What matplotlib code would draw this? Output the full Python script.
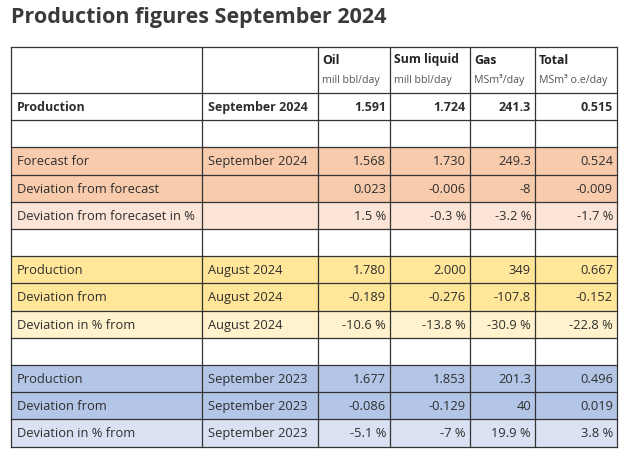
import matplotlib
matplotlib.use('Agg')
import matplotlib.pyplot as plt
from matplotlib.patches import Rectangle

plt.rcParams['font.family'] = ['Open Sans', 'DejaVu Sans']

# DATA
title = 'Production figures September 2024'
columns = ['Oil', 'Sum liquid', 'Gas', 'Total']
units = ['mill bbl/day', 'mill bbl/day', 'MSm³/day', 'MSm³ o.e/day']

row_labels = ['Production', '',
              'Forecast for', 'Deviation from forecast', 'Deviation from forecaset in %', '',
              'Production', 'Deviation from', 'Deviation in % from', '',
              'Production', 'Deviation from', 'Deviation in % from']
periods = ['September 2024', '',
           'September 2024', '', '', '',
           'August 2024', 'August 2024', 'August 2024', '',
           'September 2023', 'September 2023', 'September 2023']
oil = ['1.591', '', '1.568', '0.023', '1.5 %', '', '1.780', '-0.189', '-10.6 %', '',
       '1.677', '-0.086', '-5.1 %']
liquid = ['1.724', '', '1.730', '-0.006', '-0.3 %', '', '2.000', '-0.276', '-13.8 %', '',
          '1.853', '-0.129', '-7 %']
gas = ['241.3', '', '249.3', '-8', '-3.2 %', '', '349', '-107.8', '-30.9 %', '',
       '201.3', '40', '19.9 %']
total = ['0.515', '', '0.524', '-0.009', '-1.7 %', '', '0.667', '-0.152', '-22.8 %', '',
         '0.496', '0.019', '3.8 %']

# row fill colours
fills = ['white', 'white',
         '#F8CBAD', '#F8CBAD', '#FCE4D6', 'white',
         '#FFE699', '#FFE699', '#FFF2CC', 'white',
         '#B4C6E7', '#B4C6E7', '#D9E1F2']

# layout in pixels
col_x = [11, 202, 318, 390, 470, 535, 617]
top = 48
header_h = 46
row_h = 27.2
text_col = '#2e2e2e'
line_col = '#333333'

fig = plt.figure(figsize=(6.23, 4.56), dpi=100)
ax = fig.add_axes([0, 0, 1, 1])
ax.set_xlim(0, 623)
ax.set_ylim(456, 0)
ax.axis('off')

ax.text(11, 18, title, fontsize=15.5, fontweight='bold', color='#3a3a3a',
        va='center', ha='left')

# header
for i, (c, u) in enumerate(zip(columns, units)):
    x0 = col_x[i + 2]
    ax.text(x0 + 4, top + 12, c, fontsize=8.8, fontweight='bold', color='#222222',
            va='center', ha='left')
    ax.text(x0 + 4, top + 32, u, fontsize=7.7, color='#555555',
            va='center', ha='left')

values = list(zip(oil, liquid, gas, total))
y = top + header_h
for r in range(len(row_labels)):
    ax.add_patch(Rectangle((col_x[0], y), col_x[-1] - col_x[0], row_h,
                           facecolor=fills[r], edgecolor='none', zorder=0))
    bold = 'bold' if r == 0 else 'normal'
    fs = 9.0 if r == 0 else 9.3
    yc = y + row_h / 2
    ax.text(col_x[0] + 6, yc, row_labels[r], fontsize=fs, fontweight=bold,
            color=text_col, va='center', ha='left')
    ax.text(col_x[1] + 6, yc, periods[r], fontsize=fs, fontweight=bold,
            color=text_col, va='center', ha='left')
    for j, v in enumerate(values[r]):
        ax.text(col_x[j + 3] - 4, yc, v, fontsize=fs, fontweight=bold,
                color=text_col, va='center', ha='right')
    y += row_h
bottom = y

# grid lines
row_lines = [top, top + header_h] + [top + header_h + row_h * (k + 1) for k in range(len(row_labels))]
for yl in row_lines:
    ax.plot([col_x[0], col_x[-1]], [yl, yl], color=line_col, lw=0.9, zorder=2)
for xl in col_x:
    ax.plot([xl, xl], [top, bottom], color=line_col, lw=0.9, zorder=2)

fig.savefig('out.png', dpi=100, facecolor='white')
